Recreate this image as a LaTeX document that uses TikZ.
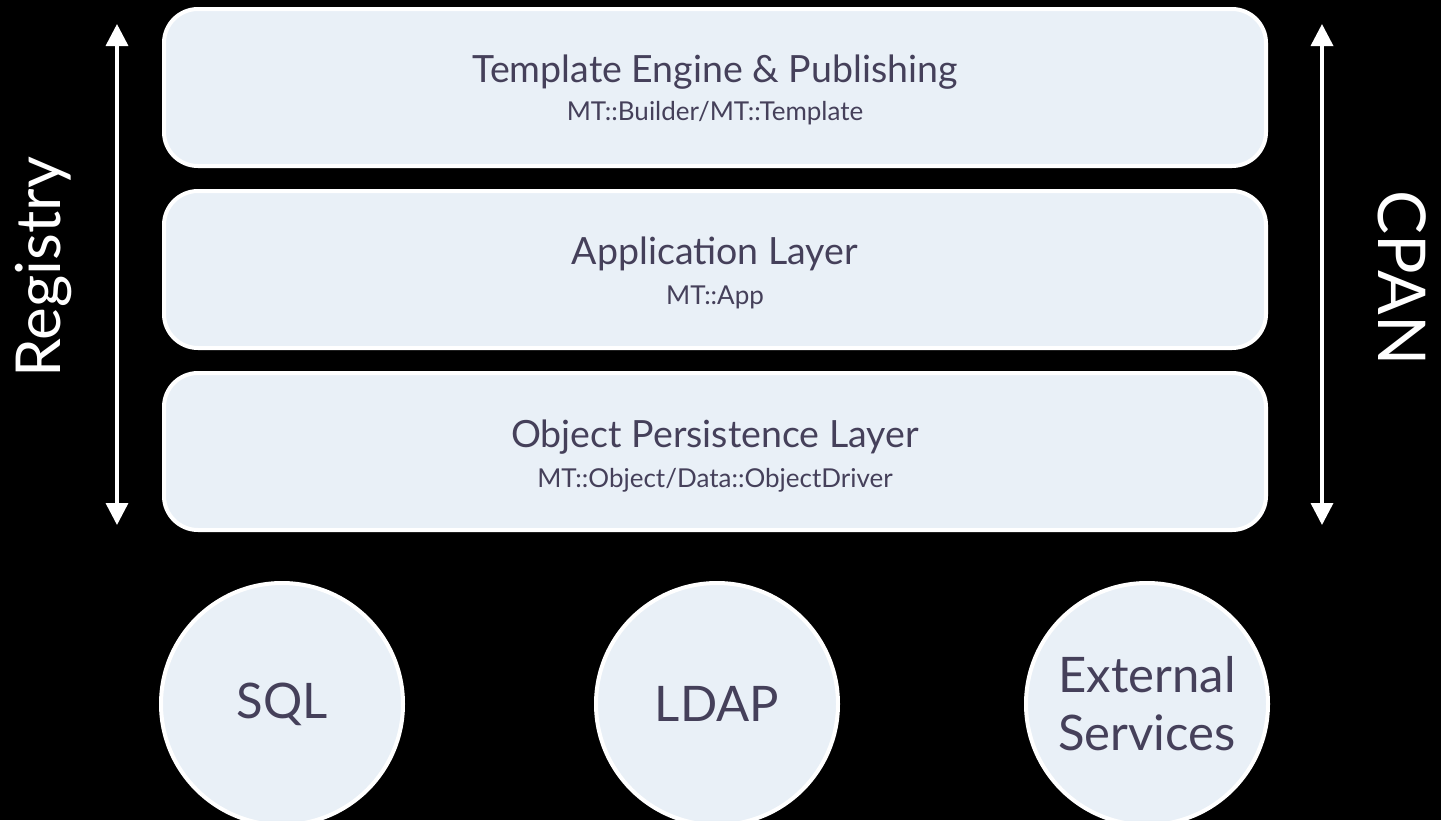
\documentclass[tikz,border=0pt]{standalone}
\usepackage{fontspec}
\setmainfont{Lato}
\usetikzlibrary{arrows.meta}
\definecolor{boxfill}{HTML}{E9F0F7}
\definecolor{txt}{HTML}{45405A}
\tikzset{
  layer/.style={draw=white, line width=4pt, fill=boxfill, rounded corners=34pt},
  blob/.style={circle, draw=white, line width=4pt, fill=boxfill, minimum size=242pt, inner sep=0pt},
  title/.style={text=txt, font=\fontsize{37.5}{40}\selectfont},
  sub/.style={text=txt, font=\fontsize{26}{30}\selectfont},
  ctext/.style={text=txt, font=\fontsize{49}{58}\selectfont, align=center},
  side/.style={text=white, font=\fontsize{62}{70}\selectfont},
  dbl/.style={draw=white, line width=3.5pt, {Triangle[width=22pt,length=22pt]}-{Triangle[width=22pt,length=22pt]}}
}
\begin{document}
\begin{tikzpicture}[x=1pt,y=-1pt]
\fill[black] (0,0) rectangle (1441,820);
\useasboundingbox (0,0) rectangle (1441,820);
% layers
\draw[layer] (164,9) rectangle (1266,166);
\draw[layer] (164,191) rectangle (1266,348);
\draw[layer] (164,373) rectangle (1266,530);
\node[title] (t1) at (715,72) {Template Engine \& Publishing};
\node[sub] (s1) at (715,113) {MT::Builder/MT::Template};
\node[title] (t2) at (715,254) {Application Layer};
\node[sub] (s2) at (715,297) {MT::App};
\node[title] (t3) at (715,437) {Object Persistence Layer};
\node[sub] (s3) at (715,480) {MT::Object/Data::ObjectDriver};
% arrows
\coordinate (la) at (117,24);
\coordinate (lb) at (117,525);
\coordinate (ra) at (1322,24);
\coordinate (rb) at (1322,525);
\draw[dbl] (la) -- (lb);
\draw[dbl] (ra) -- (rb);
\node[side, rotate=90] (reg) at (44,267) {Registry};
\node[side, rotate=-90, font=\fontsize{66}{70}\selectfont] (cpan) at (1402,278) {CPAN};
% circles
\node[blob] (sql) at (282,704) {};
\node[blob] (ldap) at (717,704) {};
\node[blob] (ext) at (1147,704) {};
\node[ctext] at (sql) {SQL};
\node[ctext] at (ldap) {LDAP};
\node[ctext] at (ext) {External\\Services};
\end{tikzpicture}
\end{document}
